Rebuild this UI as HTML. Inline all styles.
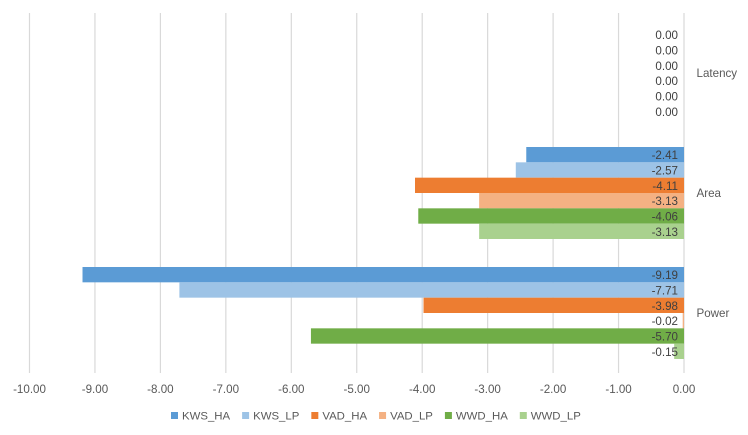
<!DOCTYPE html>
<html>
<head>
<meta charset="utf-8">
<title>Bar chart</title>
<style>
html,body{margin:0;padding:0;background:#fff;}
svg{display:block;}
text{font-family:"Liberation Sans",sans-serif;font-size:11.6px;}
text.legend-text{font-size:11.4px;}
</style>
</head>
<body>
<svg id="chart" width="748" height="435" viewBox="0 0 748 435" xmlns="http://www.w3.org/2000/svg"></svg>
<script>
const categories = ['Latency', 'Area', 'Power'];
const seriesNames = ['KWS_HA', 'KWS_LP', 'VAD_HA', 'VAD_LP', 'WWD_HA', 'WWD_LP'];
const seriesColors = ['#5B9BD5', '#9DC3E6', '#ED7D31', '#F4B183', '#70AD47', '#A9D18E'];
const kwsHa = [0, -2.41, -9.19];
const kwsLp = [0, -2.57, -7.71];
const vadHa = [0, -4.11, -3.98];
const vadLp = [0, -3.13, -0.02];
const wwdHa = [0, -4.06, -5.70];
const wwdLp = [0, -3.13, -0.15];
const xTicks = [-10, -9, -8, -7, -6, -5, -4, -3, -2, -1, 0];

const seriesValues = [kwsHa, kwsLp, vadHa, vadLp, wwdHa, wwdLp];
const svg = document.getElementById('chart');
const NS = 'http://www.w3.org/2000/svg';
const plot = {left: 29.5, right: 684, top: 13, bottom: 373};
const xMin = xTicks[0];
const xMax = xTicks[xTicks.length - 1];
function xScale(v) {
  return plot.left + (v - xMin) / (xMax - xMin) * (plot.right - plot.left);
}
const catH = (plot.bottom - plot.top) / categories.length;
const barH = catH / (seriesNames.length + 14 * 2 / 15.33);
const catPad = (catH - barH * seriesNames.length) / 2;
function yCat(c) {
  return plot.top + c * catH;
}
function yBar(c, s) {
  return yCat(c) + catPad + s * barH;
}
function make(tag, attrs, text) {
  const el = document.createElementNS(NS, tag);
  for (const k in attrs) el.setAttribute(k, attrs[k]);
  if (text !== undefined) el.textContent = text;
  svg.appendChild(el);
  return el;
}

xTicks.forEach(function (t) {
  const line = make('line', {x1: xScale(t), x2: xScale(t), y1: plot.top, y2: plot.bottom, stroke: '#D9D9D9', 'stroke-width': 1.2});
  
  
  const label = make('text', {x: xScale(t), y: 393, 'text-anchor': 'middle', fill: '#595959'}, t.toFixed(2));
  
  
});

categories.forEach(function (cat, c) {
  seriesNames.forEach(function (name, s) {
    const v = seriesValues[s][c];
    const x0 = xScale(Math.min(v, 0));
    const x1 = xScale(Math.max(v, 0));
    const y = yBar(c, s);
    const bar = make('rect', {x: x0, y: y, width: x1 - x0, height: barH, fill: seriesColors[s]});
    
    
  });
});

categories.forEach(function (cat, c) {
  seriesNames.forEach(function (name, s) {
    const v = seriesValues[s][c];
    const y = yBar(c, s);
    const label = make('text', {x: plot.right - 6, y: y + barH / 2 + 4.5, 'text-anchor': 'end', fill: '#404040'}, v.toFixed(2));
    
    
  });
  const catLabel = make('text', {x: 696.5, y: yCat(c) + catH / 2 + 4, fill: '#595959'}, cat);
  
  
});

let legendX = 171;
seriesNames.forEach(function (name, s) {
  const swatch = make('rect', {x: legendX, y: 412, width: 7, height: 7, fill: seriesColors[s]});
  
  
  const label = make('text', {x: legendX + 11, y: 419.5, fill: '#595959', class: 'legend-text'}, name);
  
  
  legendX += 11 + label.getComputedTextLength() + 12;
});
</script>
</body>
</html>
